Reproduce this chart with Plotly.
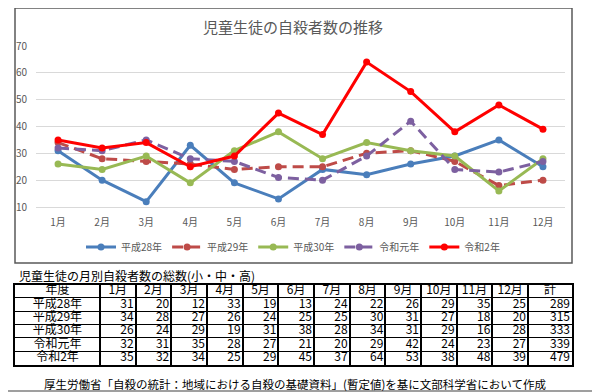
import plotly.graph_objects as go

months = ["1月", "2月", "3月", "4月", "5月", "6月", "7月", "8月", "9月", "10月", "11月", "12月"]
years = ["平成28年", "平成29年", "平成30年", "令和元年", "令和2年"]
h28 = [31, 20, 12, 33, 19, 13, 24, 22, 26, 29, 35, 25]
h29 = [34, 28, 27, 26, 24, 25, 25, 30, 31, 27, 18, 20]
h30 = [26, 24, 29, 19, 31, 38, 28, 34, 31, 29, 16, 28]
r1 = [32, 31, 35, 28, 27, 21, 20, 29, 42, 24, 23, 27]
r2 = [35, 32, 34, 25, 29, 45, 37, 64, 53, 38, 48, 39]
totals = [289, 315, 333, 339, 479]
y_ticks = [10, 20, 30, 40, 50, 60, 70]
table_header = ["年度"] + months + ["計"]

series = [h28, h29, h30, r1, r2]
colors = ["#4A7EBB", "#BE4B48", "#98B954", "#7D60A0", "#FF0000"]
dashes = ["solid", "11px,6px", "solid", "11px,6px", "solid"]

W, H = 600, 392
OFF = 8  # default page body margin shifts the figure by 8px


def PX(xs):
    return (xs - OFF) / W


def PY(ys):
    return 1 - (ys - OFF) / H


JP = "Noto Sans CJK JP"
fig = go.Figure()
for name, vals, c, d in zip(years, series, colors, dashes):
    fig.add_trace(go.Scatter(
        x=months, y=vals, name=name, mode="lines+markers",
        line=dict(color=c, width=3, dash=d),
        marker=dict(color=c, size=7),
        xaxis="x", yaxis="y",
    ))

# ---- table drawn on its own axes (column units = pixel widths) ----
col_w = [85] + [35.7] * 12 + [44]
bounds = [0.0]
for w in col_w:
    bounds.append(bounds[-1] + w)
centers = [(bounds[i] + bounds[i + 1]) / 2 for i in range(len(col_w))]
rights = [bounds[i + 1] - 2 for i in range(len(col_w))]

tfont = dict(family=JP, size=12, color="black")
fig.add_trace(go.Scatter(
    x=centers, y=[0.5] * len(table_header), text=table_header, mode="text",
    textposition="middle center", textfont=tfont,
    xaxis="x2", yaxis="y2", showlegend=False, hoverinfo="skip",
))
fig.add_trace(go.Scatter(
    x=[centers[0]] * len(years), y=[r + 1.5 for r in range(len(years))], text=years,
    mode="text", textposition="middle center", textfont=tfont,
    xaxis="x2", yaxis="y2", showlegend=False, hoverinfo="skip",
))
nx, ny, nt = [], [], []
for r, vals in enumerate(series):
    for i, v in enumerate(vals + [totals[r]]):
        nx.append(rights[i + 1])
        ny.append(r + 1.5)
        nt.append(str(v))
fig.add_trace(go.Scatter(
    x=nx, y=ny, text=nt, mode="text", textposition="middle left", textfont=tfont,
    xaxis="x2", yaxis="y2", showlegend=False, hoverinfo="skip",
))

fig.update_layout(
    width=W, height=H,
    margin=dict(l=0, r=0, t=0, b=0, autoexpand=False),
    paper_bgcolor="white", plot_bgcolor="white",
    font=dict(family=JP, color="#595959"),
    xaxis=dict(domain=[PX(36), PX(565)], anchor="y", range=[-0.5, 11.5], showgrid=False,
               automargin=False, showline=True, linecolor="#D9D9D9", linewidth=1,
               tickfont=dict(size=10, color="#595959"), ticks="",
               ticklabelstandoff=6, fixedrange=True),
    yaxis=dict(domain=[PY(207), PY(46)], range=[10, 70], tickvals=y_ticks, automargin=False,
               showgrid=True, gridcolor="#D9D9D9", gridwidth=1, zeroline=False,
               tickfont=dict(size=10, color="#595959"), ticks="",
               ticklabelstandoff=8, fixedrange=True),
    xaxis2=dict(domain=[PX(15), PX(572)], anchor="y2", range=[0, bounds[-1]],
                tickvals=bounds, showticklabels=False, ticks="", showgrid=True,
                gridcolor="black", gridwidth=1.5, zeroline=False, automargin=False,
                showline=True, mirror=True, linecolor="black", linewidth=2, fixedrange=True),
    yaxis2=dict(domain=[PY(364.5), PY(284.5)], anchor="x2", range=[6, 0],
                tickvals=list(range(7)), showticklabels=False, ticks="", showgrid=True,
                gridcolor="black", gridwidth=1, zeroline=False, automargin=False,
                showline=True, mirror=True, linecolor="black", linewidth=2, fixedrange=True),
    showlegend=True,
    legend=dict(orientation="h", x=PX(293), xanchor="center", y=PY(247), yanchor="middle",
                font=dict(size=10, color="#595959"), bgcolor="rgba(0,0,0,0)",
                itemwidth=30, tracegroupgap=0),
    annotations=[
        dict(text="児童生徒の自殺者数の推移", x=PX(293), y=PY(27), xref="paper", yref="paper",
             xanchor="center", yanchor="middle",
             showarrow=False, font=dict(size=15, color="#595959", family=JP)),
        dict(text="児童生徒の月別自殺者数の総数(小・中・高)", x=PX(17), y=PY(275),
             xref="paper", yref="paper", xanchor="left", yanchor="middle",
             showarrow=False, font=dict(size=12, color="black", family=JP)),
        dict(text="厚生労働省「自殺の統計：地域における自殺の基礎資料」(暫定値)を基に文部科学省において作成",
             x=PX(295), y=PY(384), xref="paper", yref="paper", xanchor="center", yanchor="middle",
             showarrow=False, font=dict(size=11.5, color="black", family=JP)),
    ],
    shapes=[
        dict(type="rect", xref="paper", yref="paper", x0=PX(15), x1=PX(572), y0=PY(263), y1=PY(8),
             line=dict(color="#595959", width=1.5)),
        dict(type="line", xref="paper", yref="paper", x0=0, x1=1, y0=PY(391), y1=PY(391),
             line=dict(color="#7F7F7F", width=1.5)),
    ],
)

fig.write_html("out.html")
